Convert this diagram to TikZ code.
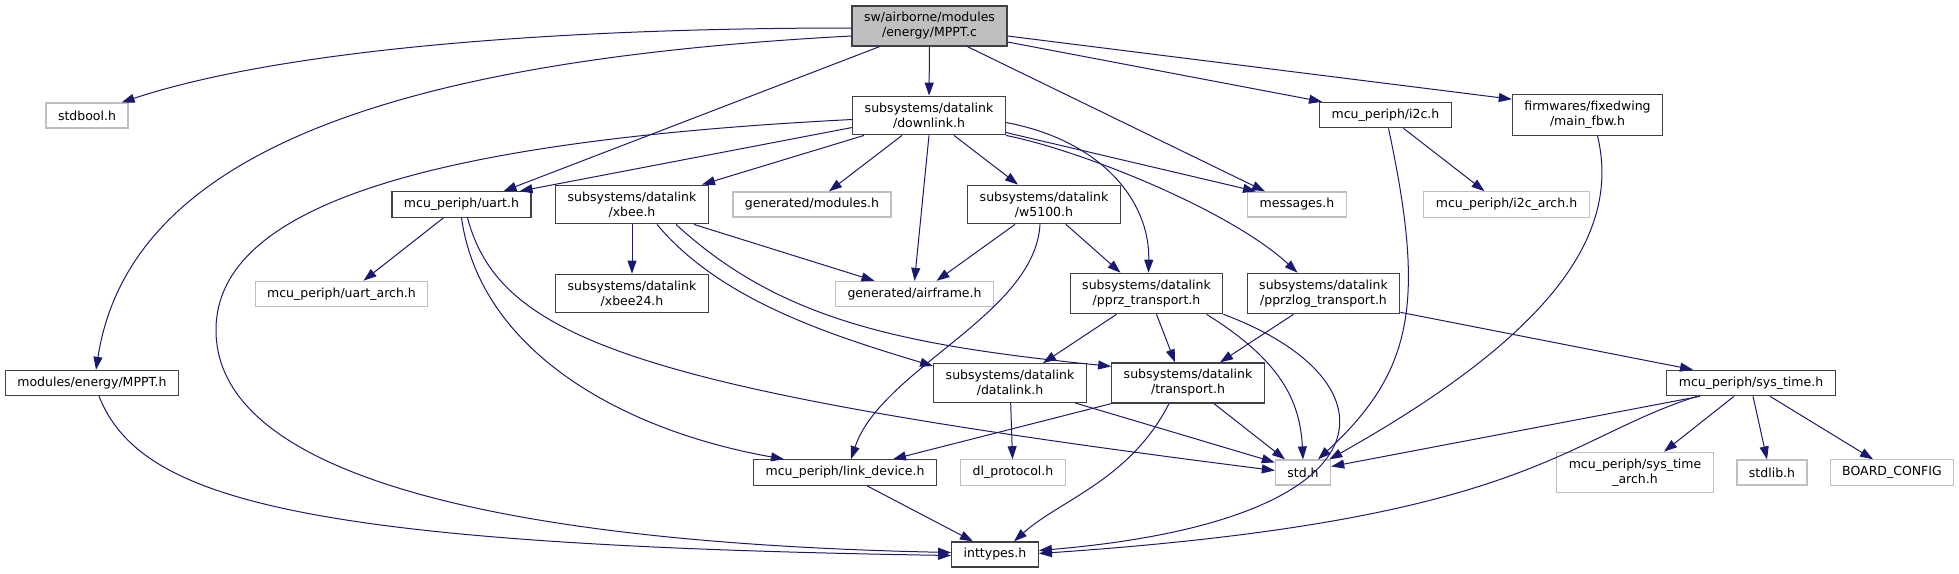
\documentclass[tikz,border=0pt]{standalone}
\usepackage{fontspec}
\setmainfont{DejaVu Sans}
\usepackage{xcolor}
\usepackage{tikz}
\usetikzlibrary{arrows.meta}
\definecolor{edgeblue}{HTML}{191970}
\definecolor{undocgray}{HTML}{BFBFBF}
\tikzset{
  hdr/.style={rectangle, draw=black!75, line width=1.2pt, fill=white, align=center,
              inner xsep=12pt, inner ysep=6.5pt, minimum height=25pt,
              font=\fontsize{12.5pt}{15pt}\selectfont},
  ext/.style={hdr, draw=undocgray},
  src/.style={hdr, fill=undocgray},
  dep/.style={-{Triangle[length=13pt,width=9pt]}, draw=edgeblue, line width=1pt}
}

\begin{document}
\begin{tikzpicture}[x=1pt, y=-1pt]
\useasboundingbox (0,0) rectangle (1959,573);
\node[src] (root) at (929.5,26) {sw/airborne/modules\\/energy/MPPT.c};
\node[ext] (stdbool) at (87,115.5) {stdbool.h};
\node[hdr] (downlink) at (929,115.5) {subsystems/datalink\\/downlink.h};
\node[hdr] (i2c) at (1385.5,115) {mcu\_periph/i2c.h};
\node[hdr] (mainfbw) at (1587.5,115) {firmwares/fixedwing\\/main\_fbw.h};
\node[hdr] (uart) at (461.5,204.5) {mcu\_periph/uart.h};
\node[hdr] (xbee) at (632,204.5) {subsystems/datalink\\/xbee.h};
\node[ext] (genmod) at (812,204.5) {generated/modules.h};
\node[hdr] (w5100) at (1044,204.5) {subsystems/datalink\\/w5100.h};
\node[ext] (messages) at (1297,204.5) {messages.h};
\node[ext] (i2carch) at (1506.5,204.5) {mcu\_periph/i2c\_arch.h};
\node[ext] (uartarch) at (341.5,294) {mcu\_periph/uart\_arch.h};
\node[hdr] (xbee24) at (632,293.5) {subsystems/datalink\\/xbee24.h};
\node[ext] (airframe) at (914.5,294) {generated/airframe.h};
\node[hdr] (pprz) at (1146.5,293.5) {subsystems/datalink\\/pprz\_transport.h};
\node[hdr] (pprzlog) at (1323.5,293.5) {subsystems/datalink\\/pprzlog\_transport.h};
\node[hdr] (mppth) at (92,383) {modules/energy/MPPT.h};
\node[hdr] (datalink) at (1010,383) {subsystems/datalink\\/datalink.h};
\node[hdr] (transport) at (1188,383) {subsystems/datalink\\/transport.h};
\node[hdr] (systime) at (1751,383) {mcu\_periph/sys\_time.h};
\node[hdr] (linkdev) at (845,472.5) {mcu\_periph/link\_device.h};
\node[ext] (dlproto) at (1013,472.5) {dl\_protocol.h};
\node[ext] (std) at (1303,472.5) {std.h};
\node[ext] (systimearch) at (1635,472.5) {mcu\_periph/sys\_time\\\_arch.h};
\node[ext] (stdlib) at (1772,472.5) {stdlib.h};
\node[ext] (board) at (1892,472.5) {BOARD\_CONFIG};
\node[hdr] (inttypes) at (995,554.5) {inttypes.h};

\draw[dep] ([yshift=-2pt]root.west) .. controls (550,28) and (280,50) .. ([xshift=-7pt]stdbool.north east);
\draw[dep] ([yshift=-10pt]root.west) .. controls (400,60) and (130,150) .. ([xshift=4pt]mppth.north);
\draw[dep] ([xshift=-50pt]root.south) -- ([xshift=42pt]uart.north);
\draw[dep] (root) -- (downlink);
\draw[dep] ([xshift=38pt]root.south) -- ([xshift=-32pt]messages.north);
\draw[dep] ([yshift=-16pt]root.east) -- ([xshift=3pt]i2c.north west);
\draw[dep] ([yshift=-10pt]root.east) -- ([yshift=-5pt]mainfbw.north west);
\draw[dep] ([yshift=-12pt]downlink.west) -- ([xshift=58pt]uart.north);
\draw[dep] ([yshift=-4pt]downlink.west) .. controls (450,140) and (216,200) .. (216,330)
  .. controls (216,500) and (600,545) .. ([yshift=2pt]inttypes.west);
\draw[dep] ([xshift=-65pt]downlink.south) -- ([xshift=70pt]xbee.north);
\draw[dep] ([xshift=-27pt]downlink.south) -- ([xshift=17pt]genmod.north);
\draw[dep] (downlink.south) -- (airframe.north);
\draw[dep] ([xshift=25pt]downlink.south) -- ([xshift=-26pt]w5100.north);
\draw[dep] ([yshift=-7pt]downlink.east) .. controls (1100,140) and (1150,200) .. ([xshift=2pt]pprz.north);
\draw[dep] ([yshift=-17pt]downlink.east) -- ([xshift=-41pt]messages.north);
\draw[dep] (downlink.south east) .. controls (1080,150) and (1230,210) .. ([xshift=-26pt]pprzlog.north);
\draw[dep] ([xshift=-18pt]uart.south) -- ([xshift=22pt]uartarch.north);
\draw[dep] (uart.south) .. controls (480,350) and (620,430) .. ([xshift=-61pt]linkdev.north);
\draw[dep] ([xshift=6pt]uart.south) .. controls (500,340) and (640,390) .. ([yshift=2pt]std.west);
\draw[dep] (xbee) -- (xbee24);
\draw[dep] ([xshift=62pt]xbee.south) -- ([xshift=-40pt]airframe.north);
\draw[dep] ([xshift=25pt]xbee.south) .. controls (720,300) and (830,335) .. ([yshift=-3pt]datalink.north west);
\draw[dep] ([xshift=44pt]xbee.south) .. controls (780,320) and (900,345) .. ([yshift=-4pt]transport.north west);
\draw[dep] ([xshift=-29pt]w5100.south) -- ([xshift=22pt]airframe.north);
\draw[dep] ([xshift=22pt]w5100.south) -- ([xshift=-26pt]pprz.north);
\draw[dep] ([xshift=-4pt]w5100.south) .. controls +(-5,90) and +(30,-90) .. ([xshift=6pt]linkdev.north);
\draw[dep] ([xshift=18pt]i2c.south) -- ([xshift=-22pt]i2carch.north);
\draw[dep] ([xshift=3pt]i2c.south) .. controls (1425,300) and (1415,370) .. ([xshift=15pt]std.north);
\draw[dep] ([xshift=10pt]mainfbw.south) .. controls (1620,230) and (1560,330) .. ([xshift=-2pt]std.north east);
\draw[dep] ([xshift=-30pt]pprz.south) -- ([xshift=33pt]datalink.north);
\draw[dep] ([xshift=10pt]pprz.south) -- ([xshift=-13pt]transport.north);
\draw[dep] ([xshift=60pt]pprz.south) .. controls (1280,360) and (1300,400) .. (std.north);
\draw[dep] (pprz.south east) .. controls (1400,380) and (1400,520) .. ([yshift=4pt]inttypes.east);
\draw[dep] ([xshift=-30pt]pprzlog.south) -- ([xshift=32pt]transport.north);
\draw[dep] ([yshift=2pt]pprzlog.south east) -- ([xshift=-58pt]systime.north);
\draw[dep] ([xshift=7pt]mppth.south) .. controls (140,500) and (300,545) .. ([yshift=-1pt]inttypes.west);
\draw[dep] (datalink) -- (dlproto);
\draw[dep] ([xshift=65pt]datalink.south) -- ([yshift=-3pt]std.north west);
\draw[dep] (transport.south west) -- ([xshift=48pt]linkdev.north);
\draw[dep] ([xshift=-19pt]transport.south) .. controls (1130,480) and (1060,500) .. ([xshift=19pt]inttypes.north);
\draw[dep] ([xshift=26pt]transport.south) -- ([xshift=-18pt]std.north);
\draw[dep] ([xshift=-51pt]systime.south) -- ([yshift=6pt]std.east);
\draw[dep] ([xshift=-54pt]systime.south) .. controls (1560,440) and (1530,520) .. ([yshift=1pt]inttypes.east);
\draw[dep] ([xshift=-17pt]systime.south) -- ([xshift=29pt]systimearch.north);
\draw[dep] ([xshift=2pt]systime.south) -- ([xshift=-5pt]stdlib.north);
\draw[dep] ([xshift=19pt]systime.south) -- ([xshift=-19pt]board.north);
\draw[dep] ([xshift=22pt]linkdev.south) -- ([xshift=-22pt]inttypes.north);
\end{tikzpicture}
\end{document}
